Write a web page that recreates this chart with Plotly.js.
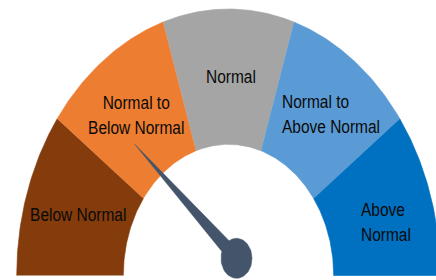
<!DOCTYPE html>
<html>
<head>
<meta charset="utf-8">
<script src="https://cdn.plot.ly/plotly-3.0.1.min.js"></script>
<style>html,body{margin:0;padding:0;background:#fff;}#chart{width:436px;height:280px;}</style>
</head>
<body>
<div id="chart"></div>
<script>
// ---- data ----
const categories = ['Below Normal', 'Normal to<br>Below Normal', 'Normal', 'Normal to<br>Above Normal', 'Above<br>Normal'];
const segmentValues = [1, 1, 1, 1, 1];
const needleValue = 1.16;

// ---- styles / geometry ----
const segmentColors = ['#843C0C', '#ED7D31', '#A5A5A5', '#5B9BD5', '#0070C0'];
const needleColor = '#44546A';
const CX = 228.5, CY = 4.5;
const RXO = 211.8, RYO = 266.5, RXI = 105.2, RYI = 131.2;
const PIVOT_DX = 8, PIVOT_DY = 17.2, NEEDLE_LEN = 136.3, NEEDLE_HALF = 7;
const HUB_RX = 15.5, HUB_RY = 20;
const K = 1.255;
const TEXT_STRETCH = 1.22;
const labelAlign = ['center', 'center', 'center', 'left', 'left'];
const labelShift = [[0, 0], [1, 0], [2, 0], [9, 1], [7, -7]];

const total = segmentValues.reduce((a, b) => a + b, 0);
const ang = v => Math.PI - (v / total) * Math.PI;

const traces = [];
let cum = 0;
segmentValues.forEach((v, i) => {
  const a0 = ang(cum), a1 = ang(cum + v);
  const xs = [], ys = [];
  const N = 60;
  for (let j = 0; j <= N; j++) {
    const t = a0 + (a1 - a0) * j / N;
    xs.push(CX + RXO * Math.cos(t)); ys.push(CY + RYO * Math.sin(t));
  }
  for (let j = N; j >= 0; j--) {
    const t = a0 + (a1 - a0) * j / N;
    xs.push(CX + RXI * Math.cos(t)); ys.push(CY + RYI * Math.sin(t));
  }
  traces.push({
    type: 'scatter', mode: 'lines', x: xs, y: ys, fill: 'toself',
    fillcolor: segmentColors[i], line: {color: segmentColors[i], width: 0.6},
    hoverinfo: 'skip', name: categories[i]
  });
  cum += v;
});

// needle
const px = CX + PIVOT_DX, py = CY + PIVOT_DY;
const th = ang(needleValue);
const tx = px + NEEDLE_LEN * Math.cos(th), ty = py + NEEDLE_LEN * K * Math.sin(th);
const dl = Math.hypot(tx - px, ty - py);
const ux = (tx - px) / dl, uy = (ty - py) / dl;
traces.push({
  type: 'scatter', mode: 'lines',
  x: [tx, px - uy * NEEDLE_HALF, px + uy * NEEDLE_HALF, tx],
  y: [ty, py + ux * NEEDLE_HALF, py - ux * NEEDLE_HALF, ty],
  fill: 'toself', fillcolor: needleColor, line: {color: needleColor, width: 0.5}, hoverinfo: 'skip'
});
const hx = [], hy = [];
for (let j = 0; j <= 72; j++) {
  const t = 2 * Math.PI * j / 72;
  hx.push(px + HUB_RX * Math.cos(t)); hy.push(py + HUB_RY * Math.sin(t));
}
traces.push({
  type: 'scatter', mode: 'lines', x: hx, y: hy, fill: 'toself',
  fillcolor: needleColor, line: {color: needleColor, width: 0.5}, hoverinfo: 'skip'
});

// labels
const annotations = [];
cum = 0;
const rxm = (RXO + RXI) / 2, rym = (RYO + RYI) / 2;
segmentValues.forEach((v, i) => {
  const t = ang(cum + v / 2);
  annotations.push({
    x: CX + rxm * Math.cos(t), y: CY + rym * Math.sin(t),
    xref: 'x', yref: 'y', text: categories[i], showarrow: false,
    xanchor: 'center', yanchor: 'middle', align: labelAlign[i],
    xshift: labelShift[i][0], yshift: labelShift[i][1],
    font: {family: '"Liberation Sans", Arial, sans-serif', size: 15.5, color: '#0a0a0a'}
  });
  cum += v;
});

const layout = {
  width: 436, height: 280,
  margin: {l: 0, r: 0, t: 0, b: 0, pad: 0},
  paper_bgcolor: '#ffffff', plot_bgcolor: '#ffffff',
  showlegend: false,
  xaxis: {range: [0, 436], visible: false, fixedrange: true},
  yaxis: {range: [0, 280], visible: false, fixedrange: true},
  annotations: annotations
};

Plotly.newPlot('chart', traces, layout, {staticPlot: true, displayModeBar: false}).then(() => {
  document.querySelectorAll('#chart text.annotation-text').forEach(t => {
    const b = t.getBBox();
    const cx = b.x + b.width / 2, cy = b.y + b.height / 2;
    const prev = t.getAttribute('transform') || '';
    t.setAttribute('transform', (prev + ' translate(' + cx + ',' + cy + ') scale(1,' + TEXT_STRETCH + ') translate(' + (-cx) + ',' + (-cy) + ')').trim());
  });
});
</script>
</body>
</html>
